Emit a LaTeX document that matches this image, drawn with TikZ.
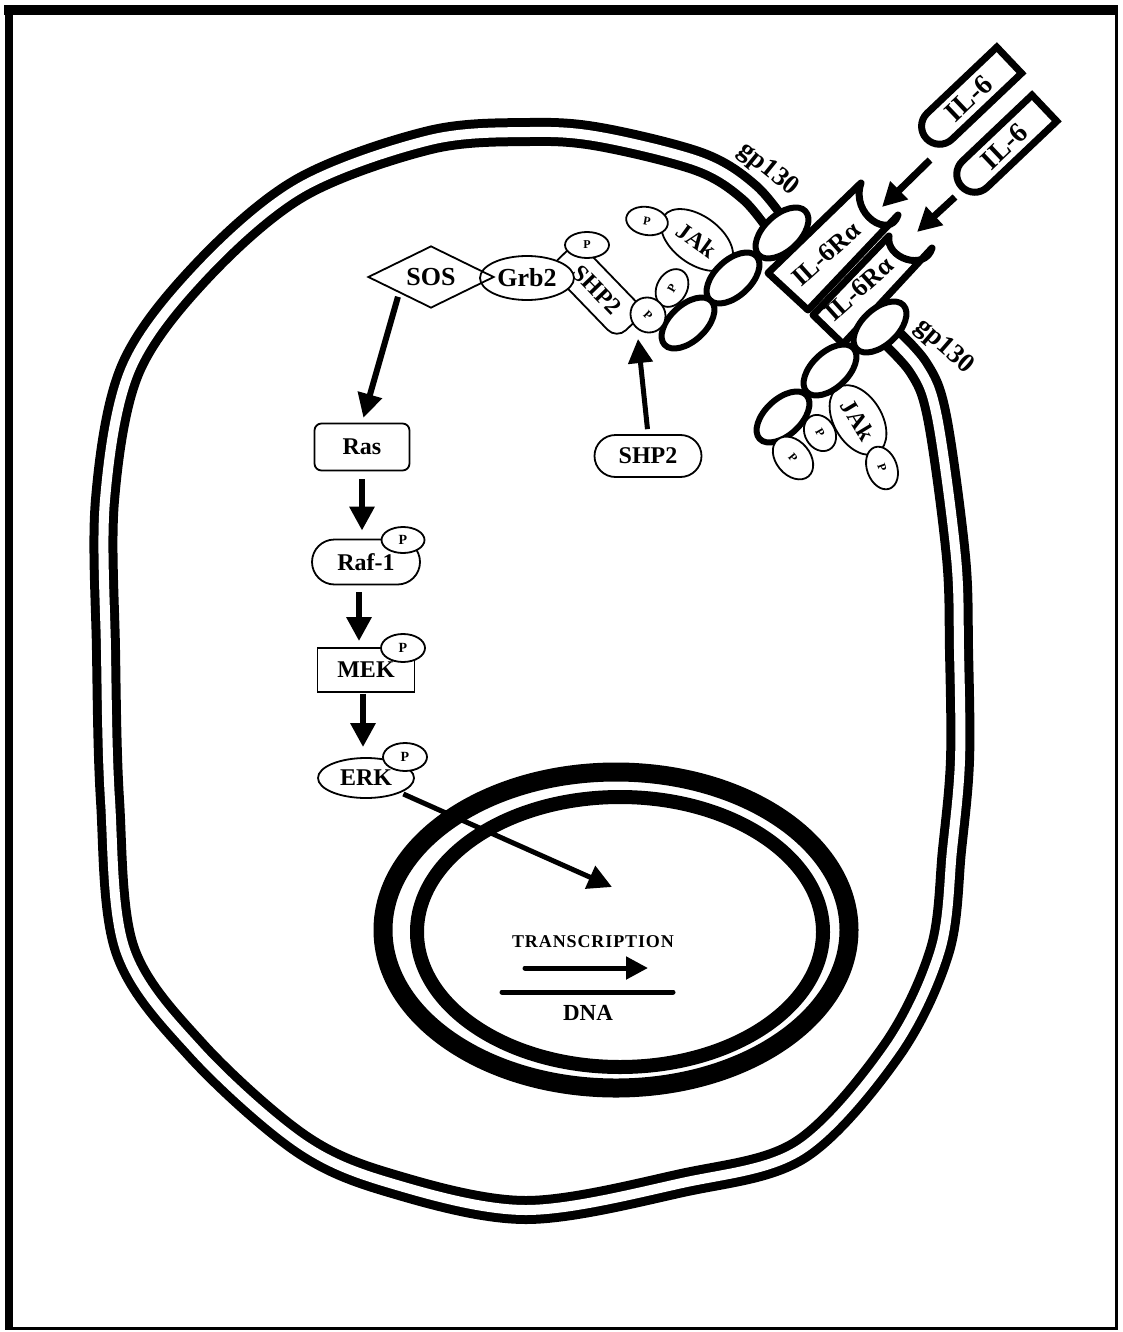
\documentclass[tikz,border=0pt]{standalone}
\usepackage{fontspec}
\setmainfont{Liberation Serif}
\usetikzlibrary{shapes.geometric,shapes.misc,arrows.meta,calc}
\begin{document}
\begin{tikzpicture}[x=1pt,y=-1pt,
  thinln/.style={draw, line width=1.8pt, fill=white, inner sep=0pt},
  lab/.style={font=\bfseries\fontsize{24}{26}\selectfont},
  midlab/.style={font=\bfseries\fontsize{26}{28}\selectfont},
  biglab/.style={font=\bfseries\fontsize{27}{29}\selectfont},
  reclab/.style={font=\bfseries\fontsize{26}{28}\selectfont},
  ligfont/.style={font=\bfseries\fontsize{28}{30}\selectfont},
  pnode/.style={thinln, ellipse, font=\bfseries\fontsize{12}{12}\selectfont},
  ppath/.style={thinln, ellipse, font=\bfseries\fontsize{14}{14}\selectfont},
  chainE/.style={ellipse, draw, line width=6pt, fill=white, minimum width=64pt, minimum height=36pt, inner sep=0pt, rotate=43},
  arr/.style={line width=6pt, -{Triangle[length=24pt,width=24pt]}},
  recbox/.style={draw, line width=7pt, line join=round, fill=white},
  ligand/.style={draw, line width=7pt, fill=white, rounded rectangle, rounded rectangle east arc=none, minimum width=114pt, minimum height=36pt, inner sep=0pt, rotate=43.5, ligfont}
]
\useasboundingbox (0,0) rectangle (1122,1332);
% frame
\draw[line width=10pt] (4,10) -- (1118,10);
\draw[line width=8pt] (9,6) -- (9,1330);
\draw[line width=3pt] (1116.5,6) -- (1116.5,1330);
\draw[line width=3pt] (5,1328.5) -- (1118,1328.5);

% cell membrane (double line)
\draw[line width=28pt, line join=round] plot[smooth, tension=0.55] coordinates {(782,233) (750,193) (700,162) (600,137) (530,132) (430,140) (300,188) (200,273) (130,370) (105,500) (106,650) (110,800) (125,950) (196,1050) (300,1143) (390,1183) (526,1210) (682,1183) (800,1150) (892,1050) (940,950) (952,850) (960,760) (959,650) (956,557) (937,417) (918,367) (880,327)};
\draw[white, line width=10pt, line join=round] plot[smooth, tension=0.55] coordinates {(782,233) (750,193) (700,162) (600,137) (530,132) (430,140) (300,188) (200,273) (130,370) (105,500) (106,650) (110,800) (125,950) (196,1050) (300,1143) (390,1183) (526,1210) (682,1183) (800,1150) (892,1050) (940,950) (952,850) (960,760) (959,650) (956,557) (937,417) (918,367) (880,327)};

% nucleus
\draw[line width=19pt] (616,930) ellipse [x radius=233pt, y radius=158pt];
\draw[line width=14pt] (620,932) ellipse [x radius=203pt, y radius=135pt];

% IL-6R alpha receptors
\draw[recbox] (768,273) -- (808,310) -- (898,215) .. controls (890,240) and (850,215) .. (861,183) -- cycle;
\draw[recbox] (813,315) -- (843,344) -- (932,248) .. controls (925,272) and (885,258) .. (889,236) -- cycle;
\node[reclab, rotate=42] (r1) at (826,254) {IL-6Rα};
\node[reclab, rotate=42] (r2) at (859,289) {IL-6Rα};

% upper gp130 chain
\node[thinln, ellipse, minimum width=82pt, minimum height=48pt, rotate=-36, lab] (jak1) at (697,240) {JAk};
\node[chainE] (e1) at (782,233) {};
\node[chainE] (e2) at (733,278) {};
\node[chainE] (e3) at (688,323) {};
\node[pnode, minimum width=42pt, minimum height=28pt, rotate=-10] (pj1) at (647,221) {P};
\node[pnode, minimum width=40pt, minimum height=30pt, rotate=60] (pj2) at (672,288) {P};
\node[biglab, rotate=-39] (g1) at (768,170) {gp130};

% lower gp130 chain
\node[thinln, ellipse, minimum width=76pt, minimum height=48pt, rotate=-59, lab] (jak2) at (858,420) {JAk};
\node[chainE] (f1) at (880,327) {};
\node[chainE] (f2) at (830,370) {};
\node[chainE] (f3) at (783,417) {};
\node[pnode, minimum width=38pt, minimum height=30pt, rotate=-60] (pl1) at (820,433) {P};
\node[pnode, minimum width=48pt, minimum height=34pt, rotate=-50] (pl2) at (793,458) {P};
\node[pnode, minimum width=44pt, minimum height=30pt, rotate=-70] (pl3) at (882,468) {P};
\node[biglab, rotate=-41] (g2) at (944,347) {gp130};

% SHP2 - Grb2 - SOS complex
\node[thinln, rectangle, rounded corners=13pt, minimum width=98pt, minimum height=40pt, rotate=-46, lab] (shpb) at (597,290) {SHP2};
\node[thinln, ellipse, minimum width=94pt, minimum height=44pt, midlab] (grb) at (527,278) {Grb2};
\node[draw, line width=1.8pt, diamond, aspect=2, minimum width=126pt, minimum height=62pt, inner sep=0pt, midlab] (sos) at (431,277) {SOS};
\node[pnode, minimum width=44pt, minimum height=26pt] (pgrb) at (587,245) {P};
\node[pnode, minimum width=36pt, minimum height=34pt, rotate=-45] (pshp) at (648,315) {P};

% free SHP2
\node[thinln, rounded rectangle, minimum width=107pt, minimum height=42pt, lab] (shpf) at (648,456) {SHP2};
\draw[arr, line width=5pt, shorten <=5pt] (shpf.north) -- ([xshift=-10pt, yshift=-24pt]pshp.center);

% IL-6 ligands
\node[ligand] (il1) at (968.8,98.5) {IL-6};
\node[ligand] (il2) at (1004,146.5) {IL-6};
\coordinate (l1s) at (930,160);
\coordinate (l1e) at (882,207);
\coordinate (l2s) at (955,197);
\coordinate (l2e) at (917,232);
\draw[arr, line width=7pt] (l1s) -- (l1e);
\draw[arr, line width=7pt] (l2s) -- (l2e);

% MAPK pathway
\node[thinln, rectangle, rounded corners=7pt, minimum width=95pt, minimum height=47pt, lab] (ras) at (362,447) {Ras};
\node[thinln, rounded rectangle, minimum width=108pt, minimum height=45pt, lab] (raf) at (366,562) {Raf-1};
\node[ppath, minimum width=43pt, minimum height=26pt] (praf) at (403,540) {P};
\node[thinln, rectangle, minimum width=97pt, minimum height=44pt, lab] (mek) at (366,670) {MEK};
\node[ppath, minimum width=44pt, minimum height=28pt] (pmek) at (403,648) {P};
\node[thinln, ellipse, minimum width=96pt, minimum height=40pt, lab] (erk) at (366,778) {ERK};
\node[ppath, minimum width=44pt, minimum height=28pt] (perk) at (405,757) {P};

\draw[arr, shorten <=4pt, shorten >=5pt] (sos.south west) -- (ras.north);
\draw[arr, shorten <=8pt, shorten >=8pt] (ras.south) -- (ras.south |- raf.north);
\draw[arr, shorten <=7pt, shorten >=6pt] ([xshift=-7pt]raf.south) -- ([xshift=-7pt]raf.south |- mek.north);
\draw[arr, shorten <=1pt, shorten >=10pt] ([xshift=-3pt]mek.south) -- ([xshift=-3pt]mek.south |- erk.north);

% into nucleus
\coordinate (ntip) at (612,887);
\draw[arr, line width=5pt, shorten <=3pt] (erk.south east) -- (ntip);

% transcription
\node[font=\bfseries\fontsize{18}{20}\selectfont\addfontfeature{LetterSpace=5}] (tr) at (593,942) {TRANSCRIPTION};
\coordinate (ts) at (525,968);
\coordinate (te) at (648,968);
\draw[line width=5pt, line cap=round, -{Triangle[length=22pt,width=22pt]}] (ts) -- (te);
\coordinate (ds) at (502,992);
\coordinate (de) at (673,992);
\draw[line width=5pt, line cap=round] (ds) -- (de);
\node[font=\bfseries\fontsize{23}{25}\selectfont] (dna) at (588,1013) {DNA};
\end{tikzpicture}
\end{document}
